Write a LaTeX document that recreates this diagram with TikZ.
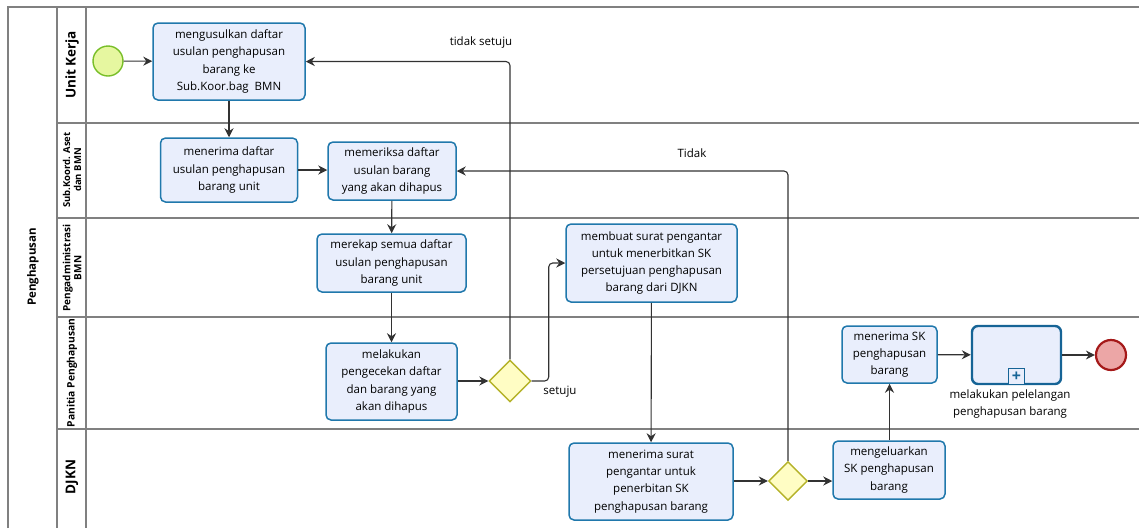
\documentclass[tikz,border=0pt]{standalone}
\usepackage{fontspec}
\setmainfont{Open Sans}
\usetikzlibrary{arrows.meta,shapes.geometric}
\definecolor{taskfill}{RGB}{233,238,252}
\definecolor{taskborder}{RGB}{32,120,172}
\definecolor{subborder}{RGB}{22,100,150}
\definecolor{gwfill}{RGB}{255,253,196}
\definecolor{gwborder}{RGB}{180,178,40}
\definecolor{startfill}{RGB}{230,247,160}
\definecolor{startborder}{RGB}{120,190,40}
\definecolor{endfill}{RGB}{236,166,166}
\definecolor{endborder}{RGB}{165,25,25}
\definecolor{lanegray}{RGB}{128,128,128}
\definecolor{flowgray}{RGB}{50,50,50}
\tikzset{
  task/.style={draw=taskborder, fill=taskfill, line width=1.5pt, rounded corners=5pt,
    align=center, inner sep=0pt, font=\fontsize{11.5}{17.2}\selectfont},
  subproc/.style={draw=subborder, fill=taskfill, line width=2.4pt, rounded corners=6pt, inner sep=0pt},
  gateway/.style={diamond, aspect=1, draw=gwborder, fill=gwfill, line width=1.4pt, inner sep=0pt,
    minimum width=42pt, minimum height=42pt},
  startev/.style={circle, draw=startborder, fill=startfill, line width=1.4pt, minimum size=30pt, inner sep=0pt},
  endev/.style={circle, draw=endborder, fill=endfill, line width=2.2pt, minimum size=30pt, inner sep=0pt},
  flow/.style={draw=flowgray, line width=1.1pt, -{Stealth[length=9pt,width=9pt,inset=3pt]}, rounded corners=4pt},
  lane/.style={draw=lanegray, line width=1.2pt},
  lanelabel/.style={rotate=90, align=center, font=\bfseries\fontsize{10}{11}\selectfont, inner sep=0pt},
  flowlabel/.style={font=\fontsize{11.5}{13}\selectfont, inner sep=0pt},
}
\begin{document}
\begin{tikzpicture}[x=1pt,y=-1pt]
\useasboundingbox (0,0) rectangle (1139,528);
% pool and lanes
\draw[lane] (8,528) -- (8,7) -- (1139,7);
\draw[lane] (57,7) -- (57,528);
\draw[lane] (86,7) -- (86,528);
\draw[lane] (57,123) -- (1139,123);
\draw[lane] (57,218) -- (1139,218);
\draw[lane] (57,317) -- (1139,317);
\draw[lane] (57,429) -- (1139,429);
\node[lanelabel, font=\bfseries\fontsize{11.5}{13}\selectfont] (pool) at (33,267) {Penghapusan};
\node[lanelabel, font=\bfseries\fontsize{13.5}{15}\selectfont] (l1) at (72,65) {Unit Kerja};
\node[lanelabel, font=\bfseries\fontsize{9.5}{11}\selectfont] (l2) at (72,170) {Sub.Koord. Aset\\dan BMN};
\node[lanelabel, font=\bfseries\fontsize{10}{11}\selectfont] (l3) at (72,268) {Pengadministrasi\\BMN};
\node[lanelabel, font=\bfseries\fontsize{10.3}{12}\selectfont] (l4) at (72,373) {Panitia Penghapusan};
\node[lanelabel, font=\bfseries\fontsize{13.5}{15}\selectfont] (l5) at (72,477) {DJKN};
% nodes
\node[startev] (start) at (108,61) {};
\node[task, minimum width=152pt, minimum height=77pt] (t1) at (229,61.5) {mengusulkan daftar\\usulan penghapusan\\barang ke\\Sub.Koor.bag\ \ BMN};
\node[task, minimum width=137pt, minimum height=64pt] (t2) at (229,170) {menerima daftar\\usulan penghapusan\\barang unit};
\node[task, minimum width=128pt, minimum height=58pt] (t3) at (392,171) {memeriksa daftar\\usulan barang\\yang akan dihapus};
\node[task, minimum width=149pt, minimum height=58pt] (t4) at (391.5,263) {merekap semua daftar\\usulan penghapusan\\barang unit};
\node[task, minimum width=131pt, minimum height=77pt] (t5) at (391.5,381.5) {melakukan\\pengecekan daftar\\dan barang yang\\akan dihapus};
\node[gateway] (g1) at (510,381) {};
\node[task, minimum width=171pt, minimum height=78pt] (t6) at (651.5,263) {membuat surat pengantar\\untuk menerbitkan SK\\persetujuan penghapusan\\barang dari DJKN};
\node[task, minimum width=164pt, minimum height=77pt] (t7) at (651,481.5) {menerima surat\\pengantar untuk\\penerbitan SK\\penghapusan barang};
\node[gateway, minimum width=39pt, minimum height=39pt] (g2) at (788,481) {};
\node[task, minimum width=112pt, minimum height=58pt] (t8) at (889,470) {mengeluarkan\\SK penghapusan\\barang};
\node[task, minimum width=95pt, minimum height=57pt] (t9) at (889.5,354.5) {menerima SK\\penghapusan\\barang};
\node[subproc, minimum width=89pt, minimum height=58pt] (sp) at (1016.5,355) {};
\node[draw=subborder, fill=taskfill, line width=1.3pt, minimum size=16pt, inner sep=0pt, anchor=south] (mk) at (sp.south) {};
\node[font=\bfseries\fontsize{16}{16}\selectfont, text=subborder, inner sep=0pt] (plus) at (mk.center) {+};
\node[flowlabel, align=center, font=\fontsize{11.5}{17}\selectfont] (splabel) at (1010,404) {melakukan pelelangan\\penghapusan barang};
\node[endev] (end) at (1111,355) {};
% flows
\draw[flow] (start) -- (t1);
\draw[flow] (t1) -- (t2);
\draw[flow] (t2) -- (t2 -| t3.west);
\draw[flow] (t3) -- (t4);
\draw[flow] (t4) -- (t5);
\draw[flow] (t5.east |- g1) -- (g1.west);
\draw[flow] (g1.north) |- (t1.east);
\draw[flow] (g1.east) -- ++(17,0) |- (t6.west);
\draw[flow] (t6) -- (t7);
\draw[flow] (t7.east |- g2) -- (g2.west);
\draw[flow] (g2.north) |- (t3.east);
\draw[flow] (g2.east) -- (g2.east -| t8.west);
\draw[flow] (t8.north -| t9) -- (t9.south);
\draw[flow] (t9) -- (sp);
\draw[flow] (sp) -- (end);
% flow labels
\node[flowlabel] (lbl1) at (481,43) {tidak setuju};
\node[flowlabel] (lbl2) at (692,153) {Tidak};
\node[flowlabel] (lbl3) at (560,392) {setuju};
\end{tikzpicture}
\end{document}
